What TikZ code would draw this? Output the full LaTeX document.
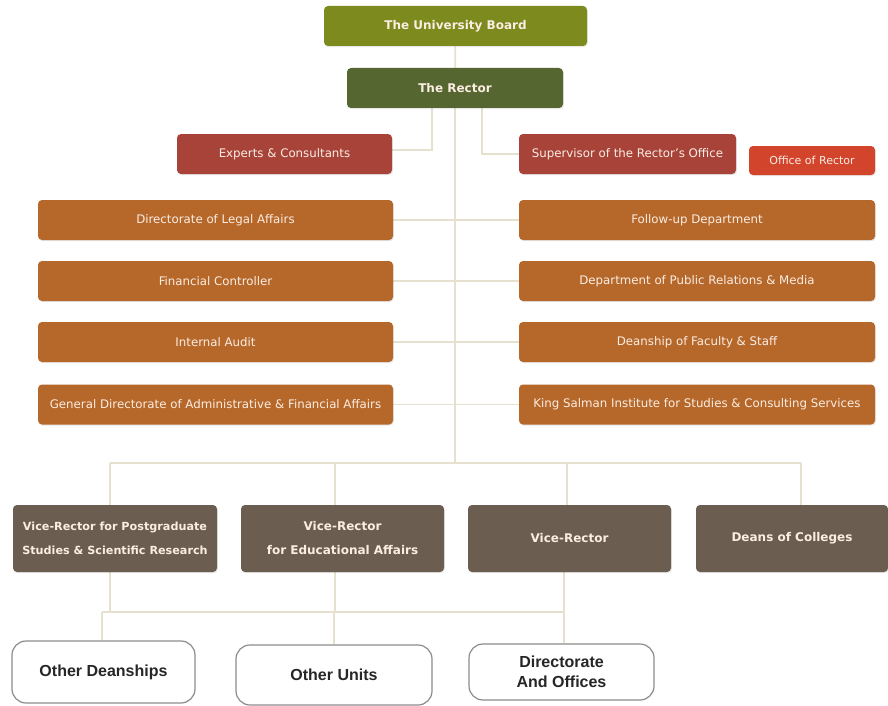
\documentclass[tikz,border=0pt]{standalone}
\usepackage{fontspec}
\setmainfont{DejaVu Sans}
\newfontfamily\arialbold{Liberation Sans Bold}
\usetikzlibrary{shadows}
\pgfdeclarelayer{bg}
\pgfsetlayers{bg,main}
\definecolor{boardc}{HTML}{7C8A1E}
\definecolor{rectorc}{HTML}{566630}
\definecolor{brickc}{HTML}{A8433A}
\definecolor{officec}{HTML}{D2442C}
\definecolor{orangec}{HTML}{B6682B}
\definecolor{vicec}{HTML}{6B5E50}
\definecolor{linkc}{HTML}{E6E0CE}
\definecolor{txtc}{HTML}{FBEDE2}
\definecolor{outc}{HTML}{8C8C8C}
\tikzset{
  unit/.style={rectangle, rounded corners=4pt, inner sep=1pt, align=center,
    text=txtc, drop shadow={opacity=0.18, shadow xshift=0.8pt, shadow yshift=-1.2pt}},
  boldunit/.style={unit, font=\fontsize{12}{24}\selectfont\bfseries},
  plainunit/.style={unit, font=\fontsize{11.8}{14}\selectfont},
  outer/.style={rectangle, rounded corners=14pt, draw=outc, line width=1.2pt, fill=white,
    align=center, text=black!85, font=\fontsize{16}{19.5}\selectfont\arialbold},
  link/.style={draw=linkc, line width=1.7pt}
}
\begin{document}
\begin{tikzpicture}[x=1pt, y=-1pt]
\useasboundingbox (0,0) rectangle (888,706);

% top of the chart
\node[boldunit, fill=boardc, minimum width=263pt, minimum height=40pt] (board) at (455.5,26) {The University Board};
\node[boldunit, fill=rectorc, minimum width=216pt, minimum height=40pt] (rector) at (455,88) {The Rector};

\node[plainunit, fill=brickc, minimum width=215pt, minimum height=40pt] (experts) at (284.5,154) {Experts \& Consultants};
\node[plainunit, fill=brickc, minimum width=217pt, minimum height=40pt] (super) at (627.5,154) {Supervisor of the Rector's Office};
\node[unit, font=\fontsize{11}{13}\selectfont, fill=officec, minimum width=126pt, minimum height=29pt] (office) at (812,160.5) {Office of Rector};

% staff units
\foreach \n/\y/\txt in {L1/220/Directorate of Legal Affairs, L2/281/Financial Controller, L3/342/Internal Audit, L4/404.5/General Directorate of Administrative \& Financial Affairs}
  \node[plainunit, fill=orangec, minimum width=355pt, minimum height=40pt] (\n) at (215.5,\y) {\txt};
\foreach \n/\y/\txt in {R1/220/Follow-up Department, R2/281/Department of Public Relations \& Media, R3/342/Deanship of Faculty \& Staff, R4/404.5/King Salman Institute for Studies \& Consulting Services}
  \node[plainunit, fill=orangec, minimum width=356pt, minimum height=40pt] (\n) at (697,\y) {\txt};

% vice-rectors and deans
\node[boldunit, font=\fontsize{11.2}{24}\selectfont\bfseries, fill=vicec, minimum width=204pt, minimum height=67pt] (v1) at (115,538.5) {Vice-Rector for Postgraduate\\Studies \& Scientific Research};
\node[boldunit, fill=vicec, minimum width=203pt, minimum height=67pt] (v2) at (342.5,538.5) {Vice-Rector\\for Educational Affairs};
\node[boldunit, fill=vicec, minimum width=203pt, minimum height=67pt] (v3) at (569.5,538.5) {Vice-Rector};
\node[boldunit, fill=vicec, minimum width=192pt, minimum height=67pt] (v4) at (792,538.5) {Deans of Colleges};

% lower units
\node[outer, minimum width=183pt, minimum height=62pt] (o1) at (103.5,672) {Other Deanships};
\node[outer, minimum width=196pt, minimum height=60pt] (o2) at (334,675) {Other Units};
\node[outer, minimum width=185pt, minimum height=56pt] (o3) at (561.5,672) {Directorate\\And Offices};

% bus points
\coordinate (d1) at (110,463);
\coordinate (d2) at (335,463);
\coordinate (d3) at (567,463);
\coordinate (d4) at (801,463);
\coordinate (e1) at (102,612);
\coordinate (e2) at (334,612);
\coordinate (e3) at (564,612);

% connectors, behind the boxes
\begin{pgfonlayer}{bg}
\fill[white] (0,0) rectangle (888,706);
\draw[link] (board) -- (rector);
\draw[link] ([xshift=-23pt]rector.south) |- ([yshift=4pt]experts.east);
\draw[link] ([xshift=27pt]rector.south) |- (super.west);
\draw[link] (rector.south) -- (rector.south |- d1);
\foreach \k in {1,2,3,4}
  \draw[link] (L\k.east) -- (R\k.west);
\draw[link] (d1) -- (d4);
\foreach \k in {1,2,3,4}
  \draw[link] (d\k) -- (d\k |- v\k.north);
\draw[link] (d1 |- v1.south) -- (d1 |- e1);
\draw[link] (d2 |- v2.south) -- (d2 |- e1);
\draw[link] (e3 |- v3.south) -- (e3);
\draw[link] (e1) -- (e3);
\foreach \k in {1,2,3}
  \draw[link] (e\k) -- (e\k |- o\k.north);
\end{pgfonlayer}
\end{tikzpicture}
\end{document}
